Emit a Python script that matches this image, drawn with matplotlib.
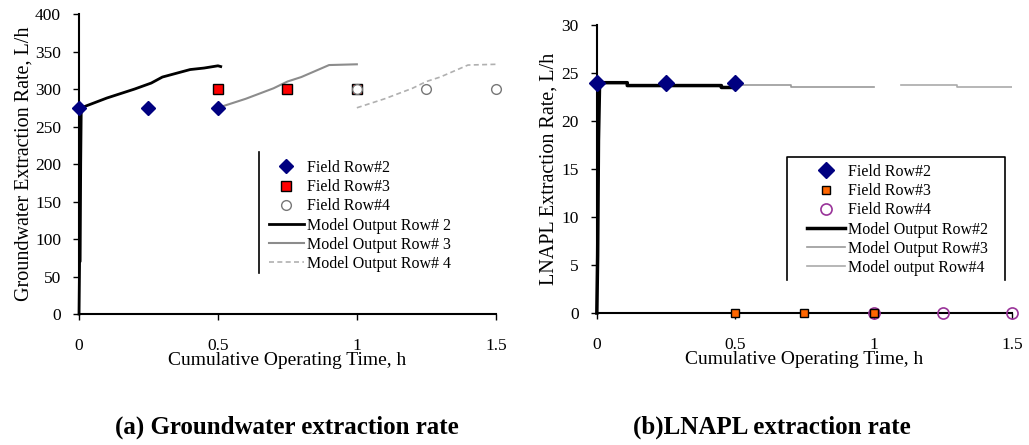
import matplotlib.pyplot as plt
from matplotlib.lines import Line2D

plt.rcParams['font.family'] = ['Liberation Serif', 'DejaVu Serif']

# field data
field_t2 = [0, 0.25, 0.5]
field_t3 = [0.5, 0.75, 1.0]
field_t4 = [1.0, 1.25, 1.5]
gw_field2 = [275, 275, 275]
gw_field3 = [300, 300, 300]
gw_field4 = [300, 300, 300]
ln_field2 = [24, 24, 24]
ln_field3 = [0, 0, 0]
ln_field4 = [0, 0, 0]

# model output (groundwater)
gw_t2 = [0, 0.002, 0.004, 0.006, 0.008, 0.1, 0.2, 0.26, 0.3, 0.4, 0.45, 0.5, 0.51]
gw_m2 = [0, 70, 70, 200, 275, 288, 300, 308, 316, 326, 328, 331, 330]
gw_t3 = [0.5, 0.6, 0.7, 0.75, 0.8, 0.9, 1.0]
gw_m3 = [275, 287, 301, 310, 316, 332, 333]
gw_t4 = [1.0, 1.1, 1.2, 1.25, 1.3, 1.4, 1.5]
gw_m4 = [275, 287, 301, 310, 316, 332, 333]

# model output (LNAPL)
ln_t2 = [0, 0.003, 0.006, 0.01, 0.11, 0.11, 0.45, 0.45, 0.5]
ln_m2 = [0, 6, 18, 24, 24, 23.7, 23.7, 23.5, 23.5]
ln_t3 = [0.5, 0.7, 0.7, 0.9, 0.9, 1.0]
ln_m3 = [23.8, 23.8, 23.6, 23.6, 23.5, 23.5]
ln_t4 = [1.1, 1.3, 1.3, 1.5]
ln_m4 = [23.8, 23.8, 23.6, 23.6]

xticks = [0, 0.5, 1, 1.5]
xticklabels = ['0', '0.5', '1', '1.5']

fig = plt.figure(figsize=(10.29, 4.45), dpi=100)
ax1 = fig.add_axes([0.0768, 0.2944, 0.405, 0.674])
ax2 = fig.add_axes([0.580, 0.2966, 0.4035, 0.647])

for ax in (ax1, ax2):
    ax.spines['top'].set_visible(False)
    ax.spines['right'].set_visible(False)
    ax.spines['left'].set_linewidth(1.5)
    ax.spines['bottom'].set_linewidth(1.5)
    ax.set_xlim(0, 1.5)
    ax.set_xticks(xticks)
    ax.set_xticklabels(xticklabels)
    ax.tick_params(labelsize=12.5, length=4, width=1)
    ax.tick_params(axis='x', pad=13)
    ax.tick_params(axis='y', pad=9)
    ax.set_xlabel('Cumulative Operating Time, h', fontsize=14, labelpad=-1)

# (a) groundwater
ax1.plot(gw_t2, gw_m2, color='black', lw=2, clip_on=False, zorder=3,
         label='Model Output Row# 2')
ax1.plot(gw_t3, gw_m3, color='#8c8c8c', lw=1.5, label='Model Output Row# 3')
ax1.plot(gw_t4, gw_m4, color='#b0b0b0', lw=1.2, ls=(0, (3, 2)),
         label='Model Output Row# 4')
ax1.plot(field_t2, gw_field2, 'D', color='#000080', ms=7, ls='none',
         clip_on=False, zorder=5, label='Field Row#2')
ax1.plot(field_t3, gw_field3, 's', mfc='red', mec='black', ms=7, ls='none',
         clip_on=False, zorder=5, label='Field Row#3')
ax1.plot(field_t4, gw_field4, 'o', mfc='white', mec='#777777', ms=7, ls='none',
         mew=1, clip_on=False, zorder=5, label='Field Row#4')
ax1.set_ylim(0, 400)
ax1.set_yticks(range(0, 401, 50))
ax1.set_ylabel('Groundwater Extraction Rate, L/h', fontsize=14.5, labelpad=1)

h, l = ax1.get_legend_handles_labels()
order = [3, 4, 5, 0, 1, 2]
leg1 = ax1.legend([h[i] for i in order], [l[i] for i in order],
                  loc='upper left', bbox_to_anchor=(0.44, 0.535), frameon=False,
                  fontsize=11.5, handlelength=2.2, labelspacing=0.2,
                  borderaxespad=0, handletextpad=0.2)
ax1.add_line(Line2D([0.432, 0.432], [0.137, 0.54], transform=ax1.transAxes,
                    color='black', lw=1.2))

# (b) LNAPL
ax2.plot(ln_t2, ln_m2, color='black', lw=2.5, clip_on=False, zorder=3,
         label='Model Output Row#2')
ax2.plot(ln_t3, ln_m3, color='#999999', lw=1.2, label='Model Output Row#3')
ax2.plot(ln_t4, ln_m4, color='#aaaaaa', lw=1.2, label='Model output Row#4')
ax2.plot(field_t2, ln_field2, 'D', color='#000080', ms=8, ls='none',
         clip_on=False, zorder=5, label='Field Row#2')
ax2.plot(field_t3, ln_field3, 's', mfc='#ff6600', mec='black', ms=6, ls='none',
         clip_on=False, zorder=5, label='Field Row#3')
ax2.plot(field_t4, ln_field4, 'o', mfc='none', mec='#993399', ms=8, ls='none',
         mew=1.2, clip_on=False, zorder=4, label='Field Row#4')
ax2.set_ylim(0, 30)
ax2.set_yticks(range(0, 31, 5))
ax2.set_ylabel('LNAPL Extraction Rate, L/h', fontsize=14.5, labelpad=2)

h, l = ax2.get_legend_handles_labels()
leg2 = ax2.legend([h[i] for i in order], [l[i] for i in order],
                  loc='upper left', bbox_to_anchor=(0.49, 0.54), frameon=False,
                  fontsize=11.5, handlelength=2.4, labelspacing=0.2,
                  borderaxespad=0, handletextpad=0.2)
ax2.add_line(Line2D([0.458, 0.458, 0.983, 0.983], [0.115, 0.542, 0.542, 0.115],
                    transform=ax2.transAxes, color='black', lw=1.2))

fig.text(0.279, 0.025, '(a) Groundwater extraction rate', ha='center',
         fontsize=18, fontweight='bold')
fig.text(0.75, 0.025, '(b)LNAPL extraction rate', ha='center',
         fontsize=18, fontweight='bold')

fig.savefig('out.png', dpi=100)
